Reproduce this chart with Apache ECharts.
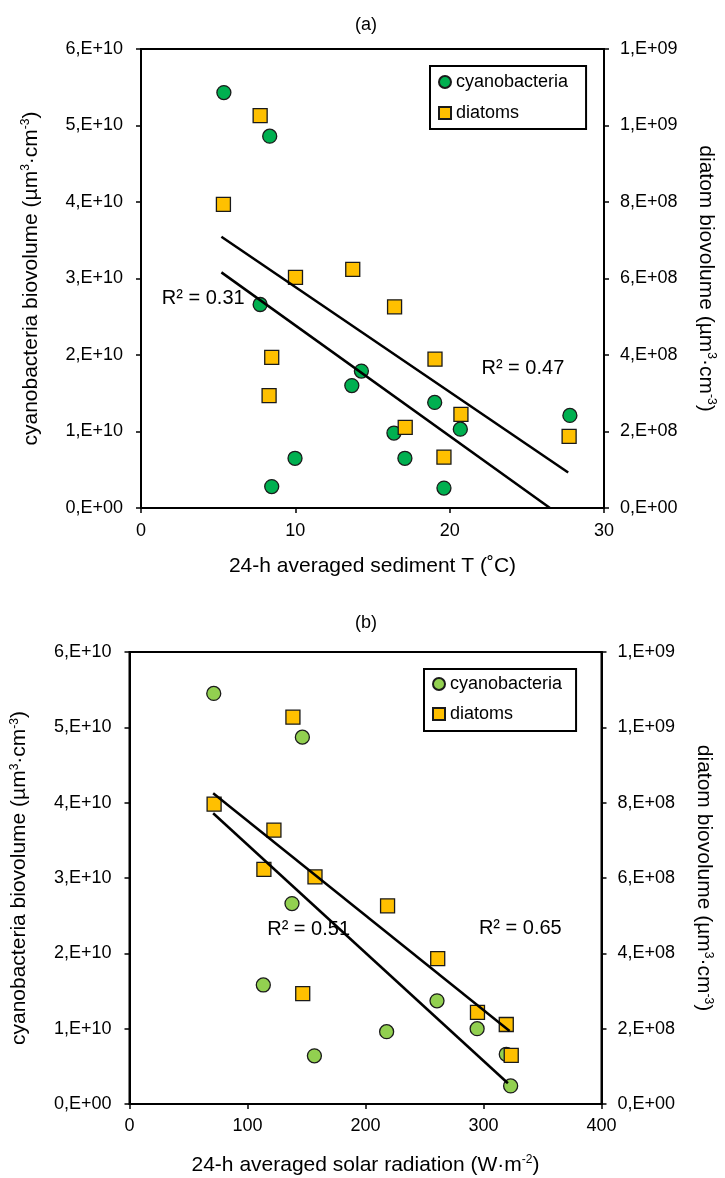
<!DOCTYPE html>
<html><head><meta charset="utf-8">
<script src="https://cdn.jsdelivr.net/npm/echarts@6/dist/echarts.min.js"></script>
<style>html,body{margin:0;padding:0;background:#fff}#c{width:725px;height:1178px}</style>
</head><body><div id="c"></div>
<script>
// ---------- Panel (a): 24-h averaged sediment T ----------
const tempCyanoX = [5.37, 8.34, 7.72, 14.28, 13.66, 19.03, 20.69, 16.39, 17.1, 19.63, 27.79, 9.98, 8.47];
const tempCyanoY = [5.43e10, 4.86e10, 2.66e10, 1.79e10, 1.60e10, 1.38e10, 1.03e10, 0.98e10, 0.65e10, 0.26e10, 1.21e10, 0.65e10, 0.28e10];
const tempDiatomX = [7.72, 5.34, 10.01, 13.72, 16.43, 19.05, 20.73, 17.12, 19.63, 27.74, 8.47, 8.3];
const tempDiatomY = [1.026e9, 7.94e8, 6.03e8, 6.24e8, 5.26e8, 3.89e8, 2.45e8, 2.11e8, 1.33e8, 1.87e8, 3.94e8, 2.94e8];
const tempCyanoTrendX = [5.21, 26.5];
const tempCyanoTrendY = [3.08e10, 0];
const tempDiatomTrendX = [5.21, 27.68];
const tempDiatomTrendY = [7.09e8, 9.3e7];
const tempXTicks = ['0', '10', '20', '30'];

// ---------- Panel (b): 24-h averaged solar radiation ----------
const radCyanoX = [71.4, 146.5, 137.7, 113.4, 260.6, 217.9, 294.6, 156.7, 319.3, 323];
const radCyanoY = [5.45e10, 4.87e10, 2.66e10, 1.58e10, 1.37e10, 0.96e10, 1.0e10, 0.64e10, 0.66e10, 0.24e10];
const radDiatomX = [138.5, 71.7, 122.4, 113.9, 157.2, 218.7, 261.2, 146.8, 294.9, 319.3, 323.5];
const radDiatomY = [1.027e9, 7.96e8, 7.27e8, 6.23e8, 6.03e8, 5.26e8, 3.86e8, 2.93e8, 2.43e8, 2.11e8, 1.29e8];
const radCyanoTrendX = [70.9, 320.7];
const radCyanoTrendY = [3.86e10, 0.275e10];
const radDiatomTrendX = [70.9, 322.1];
const radDiatomTrendY = [8.25e8, 1.94e8];
const radXTicks = ['0', '100', '200', '300', '400'];

// ---------- shared tick labels ----------
const cyanoTickLabels = ['0,E+00', '1,E+10', '2,E+10', '3,E+10', '4,E+10', '5,E+10', '6,E+10'];
const diatomTickLabels = ['0,E+00', '2,E+08', '4,E+08', '6,E+08', '8,E+08', '1,E+09', '1,E+09'];

// ---------- R² annotations (anchored in data units, left edge / vertical middle) ----------
const r2Texts = ['R² = 0.31', 'R² = 0.47', 'R² = 0.51', 'R² = 0.65'];
const r2Grid = [0, 0, 1, 1];
const r2X = [1.35, 22.06, 116.7, 296.1];
const r2Y = [2.745e10, 1.83e10, 2.31e10, 2.336e10];

const FF = '"Liberation Sans", Arial, sans-serif';
const zip = (xs, ys) => xs.map((x, i) => [x, ys[i]]);

const chart = echarts.init(document.getElementById('c'), null, {renderer: 'canvas'});

const supRich = {sup: {fontSize: 12, fontFamily: FF, color: '#000', padding: [0, 0, 10, 0]}};
const axisLineStyle = {show: true, onZero: false, lineStyle: {color: '#000', width: 2}};
const tickStyle = {show: true, length: 5, lineStyle: {color: '#000', width: 1.5}};
const labelBase = {fontSize: 18, color: '#000', fontFamily: FF};
const titleStyle = {fontSize: 21, color: '#000', fontFamily: FF, rich: supRich};

function yAxisLeft(grid) {
  return {
    gridIndex: grid, type: 'value', position: 'left', min: 0, max: 6e10, interval: 1e10,
    name: 'cyanobacteria biovolume (µm{sup|3}·cm{sup|-3})',
    nameLocation: 'middle', nameRotate: 90, nameGap: 99,
    nameTextStyle: titleStyle,
    axisLine: axisLineStyle, axisTick: tickStyle, splitLine: {show: false},
    axisLabel: Object.assign({margin: 18, formatter: v => cyanoTickLabels[Math.round(v / 1e10)]}, labelBase)
  };
}
function yAxisRight(grid) {
  return {
    gridIndex: grid, type: 'value', position: 'right', min: 0, max: 1.2e9, interval: 2e8,
    name: 'diatom biovolume (µm{sup|3}·cm{sup|-3})',
    nameLocation: 'middle', nameRotate: -90, nameGap: 91,
    nameTextStyle: titleStyle,
    axisLine: axisLineStyle, axisTick: tickStyle, splitLine: {show: false},
    axisLabel: Object.assign({margin: 16, formatter: v => diatomTickLabels[Math.round(v / 2e8)]}, labelBase)
  };
}

function scatter(name, xi, yi, xs, ys, symbol, color) {
  return {
    type: 'scatter', name, xAxisIndex: xi, yAxisIndex: yi, data: zip(xs, ys),
    symbol, symbolSize: 14,
    itemStyle: {color, borderColor: '#1a1a1a', borderWidth: 1.3, opacity: 1},
    emphasis: {disabled: true}, silent: true
  };
}
function trend(xi, yi, xs, ys) {
  return {
    type: 'line', xAxisIndex: xi, yAxisIndex: yi, data: zip(xs, ys), showSymbol: false,
    lineStyle: {color: '#000', width: 2.5}, silent: true, z: 5
  };
}

const legendBase = {
  orient: 'vertical', selectedMode: false, itemWidth: 12, itemHeight: 12,
  borderColor: '#000', borderWidth: 2, borderRadius: 0, backgroundColor: '#fff',
  textStyle: {fontSize: 18, color: '#000', fontFamily: FF, lineHeight: 20}
};

const option = {
  animation: false,
  backgroundColor: '#fff',
  graphic: [
    {type: 'text', x: 366, y: 25, style: {text: '(a)', fontSize: 18, fontFamily: FF, fill: '#000', align: 'center', verticalAlign: 'middle'}},
    {type: 'text', x: 366, y: 623, style: {text: '(b)', fontSize: 18, fontFamily: FF, fill: '#000', align: 'center', verticalAlign: 'middle'}}
  ],
  legend: [
    Object.assign({data: ['cyanobacteria', 'diatoms'], left: 430, top: 66, itemGap: 11, padding: [6, 18, 6, 8]}, legendBase),
    Object.assign({data: ['cyanobacteria (b)', 'diatoms (b)'], formatter: n => n.replace(' (b)', ''),
      left: 424, top: 669, itemGap: 10, padding: [5, 14, 7, 8]}, legendBase)
  ],
  grid: [
    {left: 141, top: 49, width: 465, height: 459, show: true, borderColor: '#000', borderWidth: 2, backgroundColor: 'transparent'},
    {left: 129.5, top: 652, width: 472, height: 452, show: true, borderColor: '#000', borderWidth: 2, backgroundColor: 'transparent'}
  ],
  xAxis: [
    {gridIndex: 0, type: 'value', min: 0, max: 30, interval: 10,
      name: '24-h averaged sediment T (˚C)', nameLocation: 'middle', nameGap: 48,
      nameTextStyle: titleStyle,
      axisLine: axisLineStyle, axisTick: tickStyle, splitLine: {show: false},
      axisLabel: Object.assign({margin: 14, formatter: v => tempXTicks[Math.round(v / 10)]}, labelBase)},
    {gridIndex: 1, type: 'value', min: 0, max: 400, interval: 100,
      name: '24-h averaged solar radiation (W·m{sup|-2})', nameLocation: 'middle', nameGap: 50,
      nameTextStyle: titleStyle,
      axisLine: axisLineStyle, axisTick: tickStyle, splitLine: {show: false},
      axisLabel: Object.assign({margin: 13, formatter: v => radXTicks[Math.round(v / 100)]}, labelBase)}
  ],
  yAxis: [yAxisLeft(0), yAxisRight(0), yAxisLeft(1), yAxisRight(1)],
  series: [
    scatter('cyanobacteria', 0, 0, tempCyanoX, tempCyanoY, 'circle', '#00B050'),
    scatter('diatoms', 0, 1, tempDiatomX, tempDiatomY, 'rect', '#FFC000'),
    trend(0, 1, tempDiatomTrendX, tempDiatomTrendY),
    trend(0, 0, tempCyanoTrendX, tempCyanoTrendY),
    scatter('cyanobacteria (b)', 1, 2, radCyanoX, radCyanoY, 'circle', '#92D050'),
    scatter('diatoms (b)', 1, 3, radDiatomX, radDiatomY, 'rect', '#FFC000'),
    trend(1, 3, radDiatomTrendX, radDiatomTrendY),
    trend(1, 2, radCyanoTrendX, radCyanoTrendY)
  ]
};
chart.setOption(option);

// R² texts placed through the axes' own scales
const r2Graphics = r2Texts.map((t, i) => {
  const p = chart.convertToPixel({xAxisIndex: r2Grid[i], yAxisIndex: r2Grid[i] * 2}, [r2X[i], r2Y[i]]);
  return {type: 'text', x: p[0], y: p[1], z: 10,
    style: {text: t, fontSize: 20, fontFamily: FF, fill: '#000', align: 'left', verticalAlign: 'middle'}};
});
chart.setOption({graphic: option.graphic.concat(r2Graphics)});
</script></body></html>
